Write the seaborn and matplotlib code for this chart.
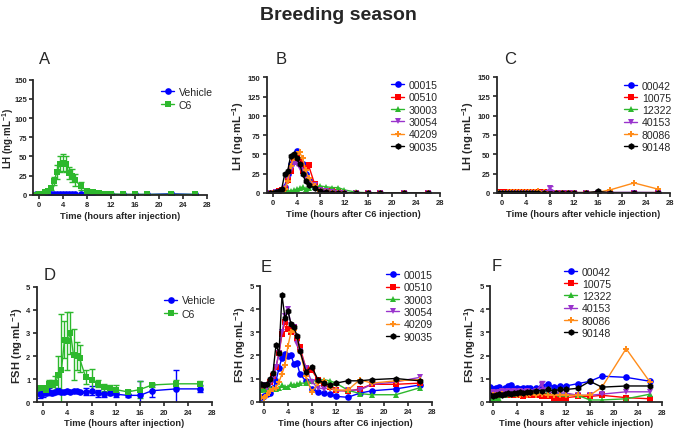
import numpy as np
import pandas as pd
import matplotlib
matplotlib.use('Agg')
import matplotlib.pyplot as plt
import seaborn as sns

# Datos
tiempos = [-0.5, 0, 0.5, 1, 1.5, 2, 2.5, 3, 3.5, 4, 4.5, 5, 5.5, 6, 7, 8, 9, 10, 11, 12, 14, 16, 18, 22, 26]

# A: LH media +- SEM
lh_vehicle = [0.3, 0.3, 0.3, 0.3, 0.3, 0.3, 0.3, 0.3, 0.3, 0.3, 0.3, 0.3, 0.3, 0.3, 0.3, 0.3, 0.3, 0.3, 0.3, 0.3, 0.3, 0.3, 0.3, 1.2, 0.3]
lh_vehicle_sem = [0.3, 0.3, 0.3, 0.3, 0.3, 0.3, 0.3, 0.3, 0.3, 0.3, 0.3, 0.3, 0.3, 0.3, 0.3, 0.3, 0.3, 0.3, 0.3, 0.3, 0.3, 0.3, 0.3, 1.8, 0.3]
lh_c6 = [0.2, 0.5, 1, 3, 5, 9, 18, 30, 40, 42, 40, 28, 25, 19, 11, 5, 3, 2, 1.5, 1, 0.5, 0.4, 0.4, 0.4, 0.4]
lh_c6_sem = [0.2, 0.3, 0.5, 1, 2, 3, 5, 9, 11, 11, 10, 8, 9, 8, 5, 3, 1.5, 1, 0.5, 0.4, 0.3, 0.2, 0.2, 0.2, 0.2]

# B: LH individuales C6
b_ids = ['00015', '00510', '30003', '30054', '40209', '90035']
b_00015 = [0.5, 0.5, 1, 2, 3, 8, 25, 37, 47, 55, 40, 38, 25, 17, 8, 4, 2, 1, 0.5, 0.5, 0.3, 0.3, 0.3, 0.3, 0.3]
b_00510 = [0.5, 0.5, 1, 2, 4, 6, 17, 28, 40, 48, 42, 28, 33, 36, 12, 5, 3, 2, 1, 0.5, 0.3, 0.3, 0.3, 0.3, 0.3]
b_30003 = [0.3, 0.3, 0.3, 0.5, 1, 1.5, 2, 3, 3.5, 5, 6, 8, 5, 6, 8, 9, 8, 7, 7, 4, 1, 0.3, 0.3, 0.3, 0.3]
b_30054 = [0.5, 0.5, 1, 1.5, 3, 6, 18, 30, 38, 37, 33, 28, 20, 15, 10, 4, 2, 1, 0.5, 0.5, 0.3, 0.3, 0.3, 0.3, 0.3]
b_40209 = [0.3, 0.3, 0.5, 1, 2, 5, 15, 35, 45, 50, 53, 45, 30, 20, 9, 2, 1, 0.5, 0.3, 0.3, 0.3, 0.3, 0.3, 0.3, 0.3]
b_90035 = [0.5, 0.5, 1, 2, 5, 24, 28, 48, 50, 45, 38, 25, 15, 10, 7, 3, 1, 0.5, 0.5, 0.3, 0.3, 0.3, 0.3, 0.3, 0.3]

# C: LH individuales vehiculo
c_ids = ['00042', '10075', '12322', '40153', '80086', '90148']
c_00042 = [0.4, 0.4, 0.4, 0.4, 0.4, 0.4, 0.4, 0.4, 0.4, 0.4, 0.4, 0.4, 0.4, 0.4, 0.4, 0.4, 0.4, 0.4, 0.4, 0.4, 0.4, 0.4, 0.5, 0.6, 0.4]
c_10075 = [1, 0.8, 1, 1.5, 1.2, 1, 1, 1.3, 1, 0.8, 1, 1, 1, 1.5, 0.8, 0.5, 0.5, 0.5, 0.5, 0.5, 0.5, 0.5, 0.5, 0.5, 0.5]
c_12322 = [0.3, 0.3, 0.3, 0.3, 0.3, 0.3, 0.3, 0.3, 0.3, 0.3, 0.3, 0.3, 0.3, 0.3, 0.3, 0.3, 0.3, 0.3, 0.3, 0.3, 0.3, 0.3, 0.3, 0.3, 0.3]
c_40153 = [0.5, 0.5, 0.5, 0.5, 0.5, 0.5, 0.5, 0.5, 0.5, 0.5, 0.5, 0.5, 0.5, 0.5, 0.5, 6, 0.5, 0.5, 0.5, 0.5, 0.5, 0.5, 0.5, 0.5, 0.5]
c_80086 = [0.5, 0.5, 0.5, 0.8, 1.5, 1, 0.8, 1, 0.8, 1, 0.8, 1, 1, 2.5, 1, 0.5, 0.5, 0.5, 0.5, 0.5, 0.5, 1, 4, 13, 5]
c_90148 = [0.5, 0.5, 0.5, 0.5, 0.5, 0.5, 0.5, 0.5, 0.5, 0.5, 0.5, 0.5, 0.5, 0.5, 0.5, 0.5, 0.5, 0.5, 0.5, 0.5, 0.5, 2, 0.5, 0.5, 0.5]

# D: FSH media +- SEM
fsh_vehicle = [0.35, 0.4, 0.4, 0.45, 0.4, 0.45, 0.5, 0.45, 0.45, 0.5, 0.45, 0.5, 0.5, 0.45, 0.45, 0.5, 0.4, 0.35, 0.4, 0.35, 0.3, 0.3, 0.5, 0.58, 0.58]
fsh_vehicle_sem = [0.15, 0.15, 0.1, 0.15, 0.1, 0.1, 0.1, 0.1, 0.05, 0.05, 0.05, 0.05, 0.05, 0.05, 0.15, 0.2, 0.15, 0.1, 0.1, 0.1, 0.05, 0.6, 0.25, 0.8, 0.15]
fsh_c6 = [0.6, 0.6, 0.55, 0.8, 0.8, 0.85, 1.2, 1.4, 2.7, 2.65, 3.0, 2.05, 2.0, 1.9, 1.1, 0.95, 0.8, 0.65, 0.6, 0.55, 0.45, 0.55, 0.75, 0.8, 0.8]
fsh_c6_sem = [0.1, 0.1, 0.1, 0.15, 0.15, 0.3, 0.8, 2.4, 0.8, 1.25, 0.9, 1.1, 0.6, 0.6, 0.3, 0.5, 0.15, 0.15, 0.15, 0.2, 0.1, 0.35, 0.1, 0.15, 0.1]

# E: FSH individuales C6
e_00015 = [0.19, 0.26, 0.32, 0.37, 0.57, 0.9, 1.44, 1.9, 2.05, 1.95, 2.0, 1.62, 1.67, 1.2, 0.88, 0.55, 0.4, 0.36, 0.33, 0.23, 0.19, 0.37, 0.47, 0.55, 0.72]
e_00510 = [0.55, 0.55, 0.55, 0.83, 1.12, 1.48, 2.1, 2.9, 3.45, 3.15, 3.0, 3.2, 2.73, 2.34, 1.45, 1.35, 0.95, 0.75, 0.65, 0.5, 0.45, 0.55, 0.75, 0.75, 0.8]
e_30003 = [0.5, 0.55, 0.5, 0.6, 0.55, 0.55, 0.6, 0.7, 0.65, 0.65, 0.75, 0.7, 0.75, 0.8, 0.8, 0.9, 0.9, 0.95, 0.9, 0.8, 0.5, 0.35, 0.3, 0.3, 0.6]
e_30054 = [0.7, 0.7, 0.6, 0.75, 1.0, 1.5, 2.1, 3.0, 3.7, 4.0, 3.3, 3.2, 2.5, 2.2, 1.45, 0.85, 0.6, 0.55, 0.6, 0.45, 0.5, 0.5, 0.75, 0.85, 1.05]
e_40209 = [0.2, 0.15, 0.3, 0.45, 0.55, 0.6, 0.85, 1.2, 1.6, 2.4, 3.0, 3.1, 2.8, 2.2, 1.1, 0.4, 0.8, 0.9, 0.6, 0.5, 0.5, 0.95, 0.8, 0.9, 0.95]
e_90035 = [0.75, 0.7, 0.75, 1.0, 1.25, 2.45, 2.1, 4.6, 3.6, 3.9, 3.35, 3.2, 2.85, 2.2, 1.3, 1.5, 0.95, 0.8, 0.7, 0.8, 0.9, 0.9, 0.95, 1.0, 0.9]

# F: FSH individuales vehiculo
f_00042 = [0.65, 0.55, 0.6, 0.65, 0.35, 0.6, 0.7, 0.75, 0.55, 0.6, 0.55, 0.6, 0.6, 0.6, 0.6, 0.7, 0.8, 0.65, 0.7, 0.7, 0.8, 0.9, 1.12, 1.07, 0.9]
f_10075 = [0.35, 0.3, 0.3, 0.35, 0.3, 0.3, 0.35, 0.3, 0.3, 0.35, 0.3, 0.25, 0.3, 0.3, 0.3, 0.25, 0.25, 0.2, 0.2, 0.2, 0.25, 0.25, 0.3, 0.2, 0.15]
f_12322 = [0.15, 0.1, 0.2, 0.15, 0.3, 0.3, 0.35, 0.35, 0.35, 0.4, 0.4, 0.45, 0.45, 0.5, 0.5, 0.5, 0.45, 0.4, 0.35, 0.35, 0.3, 0.1, 0.1, 0.15, 0.35]
f_40153 = [0.4, 0.45, 0.4, 0.45, 0.5, 0.45, 0.5, 0.45, 0.5, 0.45, 0.5, 0.45, 0.5, 0.45, 0.5, 0.75, 0.45, 0.4, 0.4, 0.4, 0.3, 0.3, 0.35, 0.45, 0.45]
f_80086 = [0.25, 0.3, 0.3, 0.3, 0.35, 0.3, 0.35, 0.3, 0.35, 0.3, 0.3, 0.35, 0.3, 0.35, 0.3, 0.35, 0.3, 0.3, 0.3, 0.3, 0.3, 0.3, 0.65, 2.3, 0.85]
f_90148 = [0.3, 0.25, 0.3, 0.35, 0.3, 0.35, 0.4, 0.35, 0.4, 0.4, 0.45, 0.4, 0.45, 0.45, 0.5, 0.5, 0.55, 0.5, 0.55, 0.55, 0.6, 0.9, 0.65, 0.7, 0.7]

colores = ['#0000ff', '#ff0000', '#2db82d', '#9933cc', '#ff8c1a', '#000000']
marcadores = ['o', 's', '^', 'v', 'P', 'h']

sns.set_theme(style='ticks')
plt.rcParams['font.family'] = ['Liberation Sans', 'DejaVu Sans']
plt.rcParams['mathtext.fontset'] = 'custom'
plt.rcParams['mathtext.rm'] = 'Liberation Sans'
plt.rcParams['mathtext.bf'] = 'Liberation Sans:bold'

fig = plt.figure(figsize=(6.76, 4.31), dpi=100)
W, H = 676, 431


def a_largo(ids, series):
    # Pasa las series a formato largo para seaborn
    filas = []
    for nombre, valores in zip(ids, series):
        for t, v in zip(tiempos, valores):
            filas.append({'t': t, 'valor': v, 'id': nombre})
    return pd.DataFrame(filas)


def dibujar(ax, ids, series, cols, marks, pos_leyenda, espacio=0.22):
    df = a_largo(ids, series)
    n = len(ids)
    sns.lineplot(data=df, x='t', y='valor', hue='id', style='id',
                 palette=dict(zip(ids, cols)), markers=dict(zip(ids, marks)),
                 dashes=False, linewidth=1, markersize=4.8,
                 markeredgewidth=0, sort=False, ax=ax)
    handles, labels = ax.get_legend_handles_labels()
    ax.legend(handles[-n:], labels[-n:], loc='upper left', frameon=False,
              bbox_to_anchor=(pos_leyenda[0] / W, 1 - pos_leyenda[1] / H),
              bbox_transform=fig.transFigure, borderaxespad=0, borderpad=0,
              fontsize=7.6, handlelength=1.25, handletextpad=0.45, labelspacing=espacio)


def errores(ax, medias, sems, cols):
    for m, s, c in zip(medias, sems, cols):
        ax.errorbar(tiempos, m, yerr=s, fmt='none', ecolor=c, elinewidth=1,
                    capsize=2, capthick=1, zorder=1)


def estilo(ax, ymax, ypaso, xizq, ylabel, xlabel, letra, letra_pos):
    ax.set_xlim(xizq, 28)
    ax.set_ylim(0, ymax)
    ax.set_xticks(np.arange(0, 29, 4))
    ax.set_yticks(np.arange(0, ymax + 0.01, ypaso))
    ax.set_ylabel(ylabel, fontsize=8, fontweight='bold', labelpad=1)
    ax.set_xlabel(xlabel, fontsize=6.7, fontweight='bold', labelpad=2)
    ax.tick_params(labelsize=5.5, length=3, width=1.2, pad=1.5)
    for lbl in ax.get_xticklabels() + ax.get_yticklabels():
        lbl.set_fontweight('bold')
    for sp in ['left', 'bottom']:
        ax.spines[sp].set_linewidth(1.3)
    sns.despine(ax=ax)
    fig.text(letra_pos[0] / W, 1 - letra_pos[1] / H, letra, fontsize=12, ha='center', va='center')


def eje(x0, x1, y_top, y_bot):
    return fig.add_axes([x0 / W, 1 - y_bot / H, (x1 - x0) / W, (y_bot - y_top) / H])


axA = eje(33, 207, 80.7, 195.7)
axB = eje(266.7, 440, 78.3, 194)
axC = eje(496.7, 670, 78, 194)
axD = eje(36.7, 212.3, 287.7, 403.3)
axE = eje(260, 431.7, 286.7, 402.7)
axF = eje(490, 662.3, 286.7, 403.3)

lh_lab = r'LH (ng$\cdot$mL$^{\mathbf{-1}}$)'
fsh_lab = r'FSH (ng$\cdot$mL$^{\mathbf{-1}}$)'
grupos = ['Vehicle', 'C6']
col_grupos = [colores[0], colores[2]]
mk_grupos = ['o', 's']

# Panel A
errores(axA, [lh_vehicle, lh_c6], [lh_vehicle_sem, lh_c6_sem], col_grupos)
dibujar(axA, grupos, [lh_vehicle, lh_c6], col_grupos, mk_grupos, (161, 88), espacio=0.3)
estilo(axA, 150, 25, -1.0, lh_lab, 'Time (hours after injection)', 'A', (45, 60))
axA.set_ylabel(lh_lab, fontsize=7, fontweight='bold')
axA.tick_params(axis='y', pad=1)
axA.yaxis.set_label_coords(-0.1, 0.5)

# Panel B
dibujar(axB, b_ids, [b_00015, b_00510, b_30003, b_30054, b_40209, b_90035], colores, marcadores, (391, 81))
estilo(axB, 150, 25, -1, lh_lab, 'Time (hours after C6 injection)', 'B', (281, 60))

# Panel C
dibujar(axC, c_ids, [c_00042, c_10075, c_12322, c_40153, c_80086, c_90148], colores, marcadores, (624, 81.5))
axC.errorbar([8], [6], yerr=[2.5], fmt='none', ecolor=colores[3], elinewidth=1, capsize=2)
estilo(axC, 150, 25, -0.9, lh_lab, 'Time (hours after vehicle injection)', 'C', (510, 60))

# Panel D
errores(axD, [fsh_vehicle, fsh_c6], [fsh_vehicle_sem, fsh_c6_sem], col_grupos)
dibujar(axD, grupos, [fsh_vehicle, fsh_c6], col_grupos, mk_grupos, (164, 296.5), espacio=0.3)
estilo(axD, 5, 1, -1.1, fsh_lab, 'Time (hours after injection)', 'D', (50, 276))

# Panel E
dibujar(axE, b_ids, [e_00015, e_00510, e_30003, e_30054, e_40209, e_90035], colores, marcadores, (386, 271))
estilo(axE, 5, 1, -0.67, fsh_lab, 'Time (hours after C6 injection)', 'E', (266, 268))

# Panel F
dibujar(axF, c_ids, [f_00042, f_10075, f_12322, f_40153, f_80086, f_90148], colores, marcadores, (564, 267.5))
axF.errorbar([8], [0.75], yerr=[0.15], fmt='none', ecolor=colores[3], elinewidth=1, capsize=2)
estilo(axF, 5, 1, -0.55, fsh_lab, 'Time (hours after vehicle injection)', 'F', (497, 267))

fig.text(0.5, 1 - 15 / H, 'Breeding season', fontsize=14, fontweight='bold', ha='center', va='center')

fig.savefig('out.png', dpi=100)
